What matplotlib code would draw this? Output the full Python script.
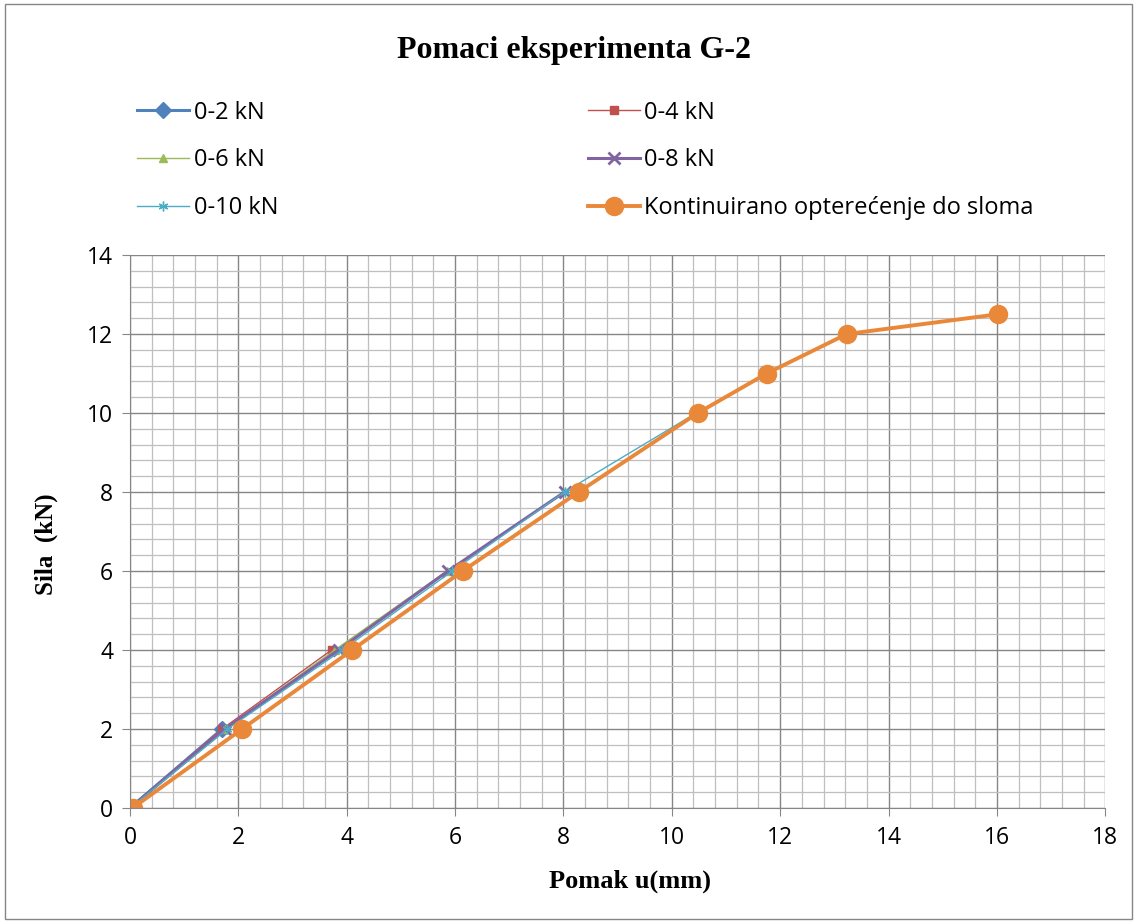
import numpy as np
import matplotlib
matplotlib.use("Agg")
import matplotlib.pyplot as plt
from matplotlib.ticker import MultipleLocator
from matplotlib.patches import Rectangle

# series data: displacement (mm) and force (kN)
x_02 = [0.0, 1.70]
y_02 = [0, 2]
x_04 = [0.0, 1.70, 3.72]
y_04 = [0, 2, 4]
x_06 = [0.0, 1.75, 3.78, 5.85]
y_06 = [0, 2, 4, 6]
x_08 = [0.0, 1.75, 3.85, 5.87, 8.02]
y_08 = [0, 2, 4, 6, 8]
x_10 = [0.0, 1.80, 3.92, 5.95, 8.02, 10.45]
y_10 = [0, 2, 4, 6, 8, 10]
x_kont = [0.05, 2.07, 4.10, 6.14, 8.28, 10.48, 11.75, 13.23, 16.02]
y_kont = [0, 2, 4, 6, 8, 10, 11, 12, 12.5]

labels = ["0-2 kN", "0-4 kN", "0-6 kN", "0-8 kN", "0-10 kN",
          "Kontinuirano opterećenje do sloma"]

fig = plt.figure(figsize=(11.37, 9.23), dpi=100)
ax = fig.add_axes([0.1143, 0.1246, 0.8578, 0.5991])

star = (6, 2, 0)
l1, = ax.plot(x_02, y_02, color="#4F81BD", lw=2.2, marker="D", ms=8, label=labels[0])
l2, = ax.plot(x_04, y_04, color="#C0504D", lw=1.0, marker="s", ms=6, label=labels[1])
l3, = ax.plot(x_06, y_06, color="#9BBB59", lw=1.0, marker="^", ms=6, label=labels[2])
l4, = ax.plot(x_08, y_08, color="#8064A2", lw=2.2, marker="x", ms=9, mew=2, label=labels[3])
l5, = ax.plot(x_10, y_10, color="#4BACC6", lw=1.0, marker=star, ms=7, label=labels[4])
l6, = ax.plot(x_kont, y_kont, color="#EA883A", lw=2.8, marker="o", ms=13, label=labels[5])

ax.set_xlim(0, 18)
ax.set_ylim(0, 14)
ax.xaxis.set_major_locator(MultipleLocator(2))
ax.yaxis.set_major_locator(MultipleLocator(2))
ax.xaxis.set_minor_locator(MultipleLocator(0.4))
ax.yaxis.set_minor_locator(MultipleLocator(0.4))
ax.grid(which="major", color="#868686", lw=1.0)
ax.grid(which="minor", color="#BFBFBF", lw=0.9)
ax.set_axisbelow(True)
for s in ["top", "right"]:
    ax.spines[s].set_visible(False)
for s in ["left", "bottom"]:
    ax.spines[s].set_color("#868686")
ax.tick_params(which="major", length=6, color="#868686", labelsize=16.5)
ax.tick_params(axis="x", pad=7)
ax.tick_params(axis="y", pad=6)
ax.tick_params(which="minor", length=0)
for t in ax.get_xticklabels() + ax.get_yticklabels():
    t.set_fontfamily("Open Sans")

ax.set_xlabel("Pomak u(mm)", fontfamily="Liberation Serif", fontweight="bold",
              fontsize=19, va="center", ha="center")
ax.xaxis.set_label_coords(0.513, -0.132)
ax.set_ylabel("Sila  (kN)", fontfamily="Liberation Serif", fontweight="bold",
              fontsize=18, va="center", ha="center")
ax.yaxis.set_label_coords(-0.086, 0.477)

fig.text(0.505, 0.945, "Pomaci eksperimenta G-2", ha="center", va="center",
         fontfamily="Liberation Serif", fontweight="bold", fontsize=23)

handles = [l1, l3, l5, l2, l4, l6]
fig.legend(handles, [h.get_label() for h in handles], loc="upper left",
           bbox_to_anchor=(0.102, 0.914), ncol=2, frameon=False,
           prop={"family": "Open Sans", "size": 17}, handlelength=2.2,
           handletextpad=0.2, columnspacing=13.1, labelspacing=1.0)

fig.patches.append(Rectangle((0.004, 0.004), 0.992, 0.992, transform=fig.transFigure,
                             fill=False, edgecolor="#868686", lw=1.0))

fig.savefig("out.png", dpi=100)
